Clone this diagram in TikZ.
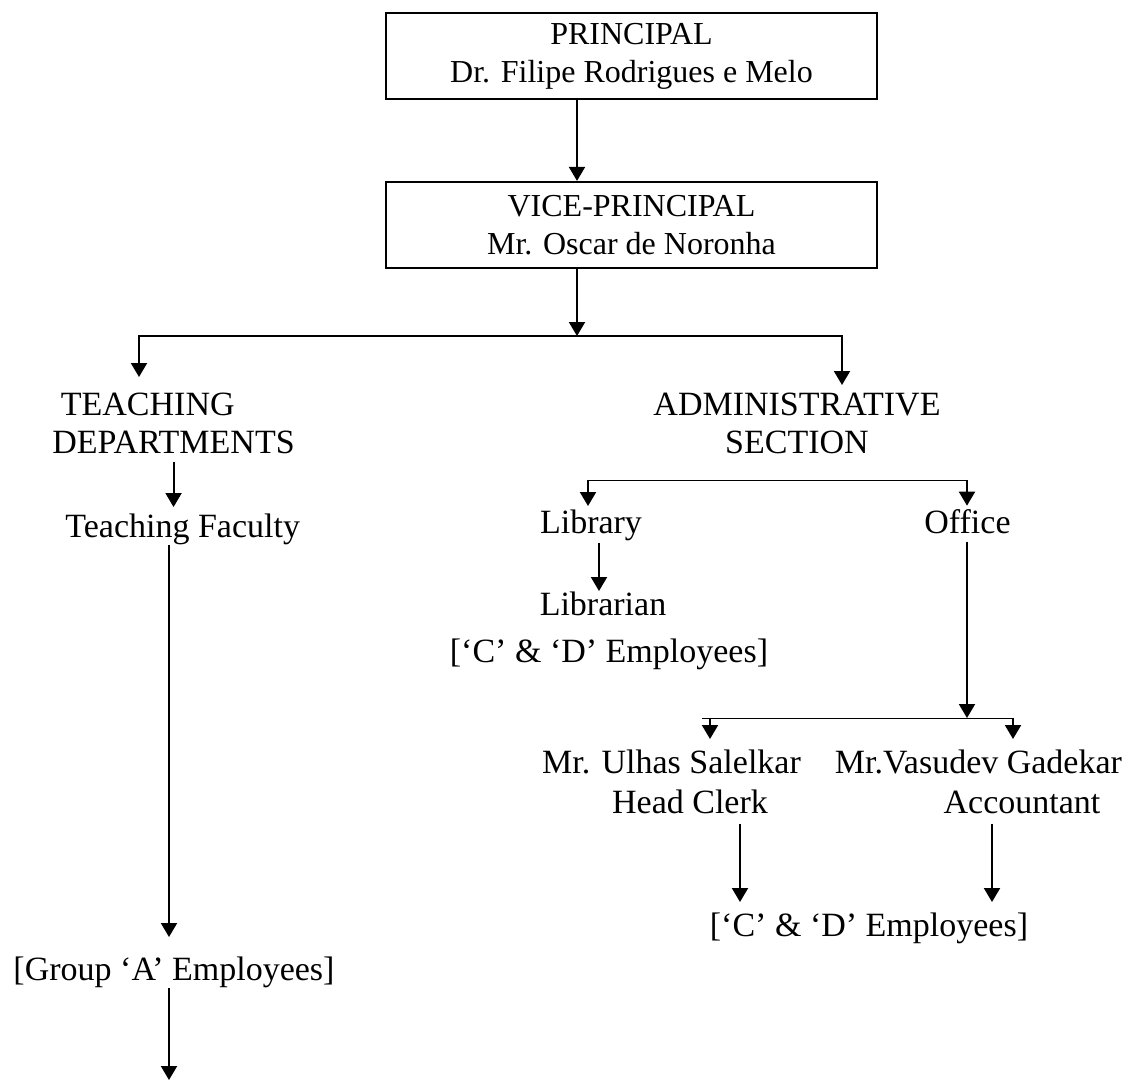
\documentclass[tikz,border=0pt]{standalone}
\usepackage{fontspec}
\setmainfont{Liberation Serif}
\usetikzlibrary{arrows.meta,positioning,calc}

\begin{document}
\begin{tikzpicture}[
  x=0.5pt, y=-0.5pt,
  font=\fontsize{17}{19}\selectfont,
  box/.style={draw, line width=0.9pt, minimum width=245.5pt, minimum height=43pt, inner sep=0pt, align=center, font=\fontsize{16}{19}\selectfont},
  lbl/.style={inner sep=0pt, align=center},
  arr/.style={-{Triangle[width=8pt,length=7pt]}, line width=1pt},
]
\useasboundingbox (0,0) rectangle (1130,1082);
\node[box] (pr) at (631.5,56) {PRINCIPAL\\Dr. Filipe Rodrigues e Melo};
\node[box, below=40.5pt of pr] (vp) {VICE-PRINCIPAL\\Mr. Oscar de Noronha};
\node[lbl, align=left, anchor=north west] (td) at (52,393) {~TEACHING\\DEPARTMENTS};
\node[lbl, anchor=north] (adm) at (797,393) {ADMINISTRATIVE\\SECTION};
\node[lbl, anchor=base west] (tf) at (65,537) {Teaching Faculty};
\node[lbl, anchor=base] (grpa) at (174,980) {[Group ‘A’ Employees]};
\node[lbl, anchor=base] (lib) at (591,533) {Library};
\node[lbl, anchor=base] (off) at (967.5,533) {Office};
\node[lbl, anchor=base] (librn) at (603,615) {Librarian};
\node[lbl, anchor=base] (libemp) at (609,662) {[‘C’ \& ‘D’ Employees]};
\node[lbl, anchor=base] (ulhas) at (671.5,773) {Mr. Ulhas Salelkar};
\node[lbl, anchor=base] (clerk) at (690,813) {Head Clerk};
\node[lbl, anchor=base] (vasu) at (978.5,773) {Mr.Vasudev Gadekar};
\node[lbl, anchor=base] (acct) at (1022,813) {Accountant};
\node[lbl, anchor=base] (cdemp) at (869,936) {[‘C’ \& ‘D’ Employees]};
% branch points
\coordinate (b1) at (577,336);
\coordinate (bL) at (139,336);
\coordinate (bR) at (842,336);
\coordinate (aL) at (588,480);
\coordinate (aR) at (967,480);
\coordinate (lcol) at (599,560);
\coordinate (oB) at (967,718);
\coordinate (sL) at (702,718);
\coordinate (sU) at (710,718);
\coordinate (sR) at (1013,718);
\coordinate (hcol) at (740,860);
\coordinate (acol) at (992,860);
\coordinate (tEnd) at (169,1080);
% top
\draw[arr] (pr.south -| b1) -- (vp.north -| b1);
\draw[arr] (vp.south -| b1) -- (b1);
\draw[arr, shorten >=8pt] (b1) -| (td.north -| bL);
\draw[arr, shorten >=4pt] (b1) -| (adm.north -| bR);
% teaching side
\draw[arr, shorten <=3.5pt, shorten >=3pt] (td.south) -- (td.south |- tf.north);
\draw[arr, shorten >=9.5pt] (tf.south -| tEnd) -- (grpa.north -| tEnd);
\draw[arr] (grpa.south -| tEnd) -- (tEnd);
% administrative side
\draw (aL) -- (aR);
\draw[arr, shorten >=1.5pt] (aL) -- (lib.north -| aL);
\draw[arr, shorten >=1.5pt] (aR) -- (off.north -| aR);
\draw[arr, shorten <=1pt] (lib.south -| lcol) -- (librn.north -| lcol);
\draw[arr, shorten <=4pt] (off.south -| oB) -- (oB);
% office staff
\draw (sL) -- (sR);
\draw[arr, shorten >=5pt] (sU) -- (ulhas.north -| sU);
\draw[arr, shorten >=5pt] (sR) -- (vasu.north -| sR);
\draw[arr, shorten <=5pt, shorten >=5pt] (clerk.south -| hcol) -- (cdemp.north -| hcol);
\draw[arr, shorten <=5pt, shorten >=5pt] (acct.south -| acol) -- (cdemp.north -| acol);
\end{tikzpicture}
\end{document}
